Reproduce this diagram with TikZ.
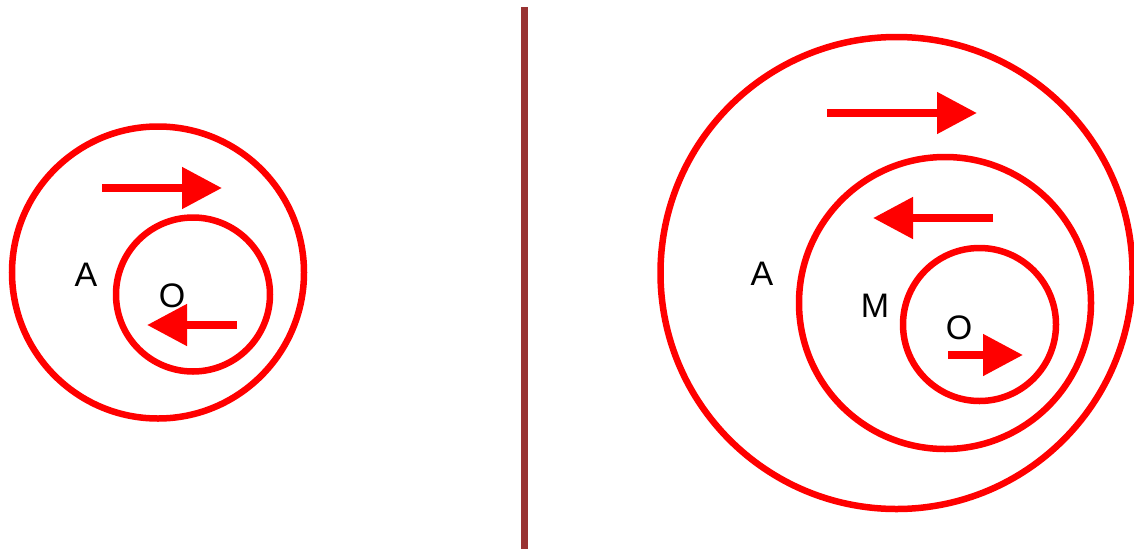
\documentclass[tikz,border=0pt]{standalone}
\usepackage{fontspec}
\setmainfont{Liberation Sans}
\usetikzlibrary{arrows.meta}
\definecolor{ringred}{RGB}{255,0,0}
\definecolor{divider}{RGB}{153,51,51}
\begin{document}
\begin{tikzpicture}[x=1pt,y=-1pt,
  ring/.style={circle,draw=ringred,line width=6.5pt,inner sep=0pt},
  flow/.style={draw=ringred,line width=8pt,-{Triangle[length=40pt,width=40pt]}},
  lbl/.style={inner sep=0pt,font=\fontsize{34}{34}\selectfont}]
\useasboundingbox (0,0) rectangle (1134,549);
% left
\node[ring,minimum size=292pt] (LA) at (158,272.5) {};
\node[ring,minimum size=154pt] (LO) at (193,294.5) {};
\node[lbl] (lA) at (86,275) {A};
\node[lbl] (lO) at (172,296) {O};
\coordinate (l1s) at (102,188); \coordinate (l1e) at (222,188);
\coordinate (l2s) at (237,325); \coordinate (l2e) at (147,325);
\draw[flow] (l1s) -- (l1e);
\draw[flow] (l2s) -- (l2e);
% divider
\coordinate (d1) at (524.5,7); \coordinate (d2) at (524.5,549);
\draw[divider,line width=7pt] (d1) -- (d2);
% right
\node[ring,minimum size=472pt] (RA) at (896.5,273) {};
\node[ring,minimum size=292pt] (RM) at (945,303) {};
\node[ring,minimum size=153pt] (RO) at (979.5,324.5) {};
\node[lbl] (rA) at (762,274) {A};
\node[lbl] (rM) at (875,305.5) {M};
\node[lbl] (rO) at (959,328) {O};
\coordinate (r1s) at (827,113); \coordinate (r1e) at (977,113);
\coordinate (r2s) at (993,218); \coordinate (r2e) at (873,218);
\coordinate (r3s) at (948,355); \coordinate (r3e) at (1023,355);
\draw[flow] (r1s) -- (r1e);
\draw[flow] (r2s) -- (r2e);
\draw[flow] (r3s) -- (r3e);
\end{tikzpicture}
\end{document}
